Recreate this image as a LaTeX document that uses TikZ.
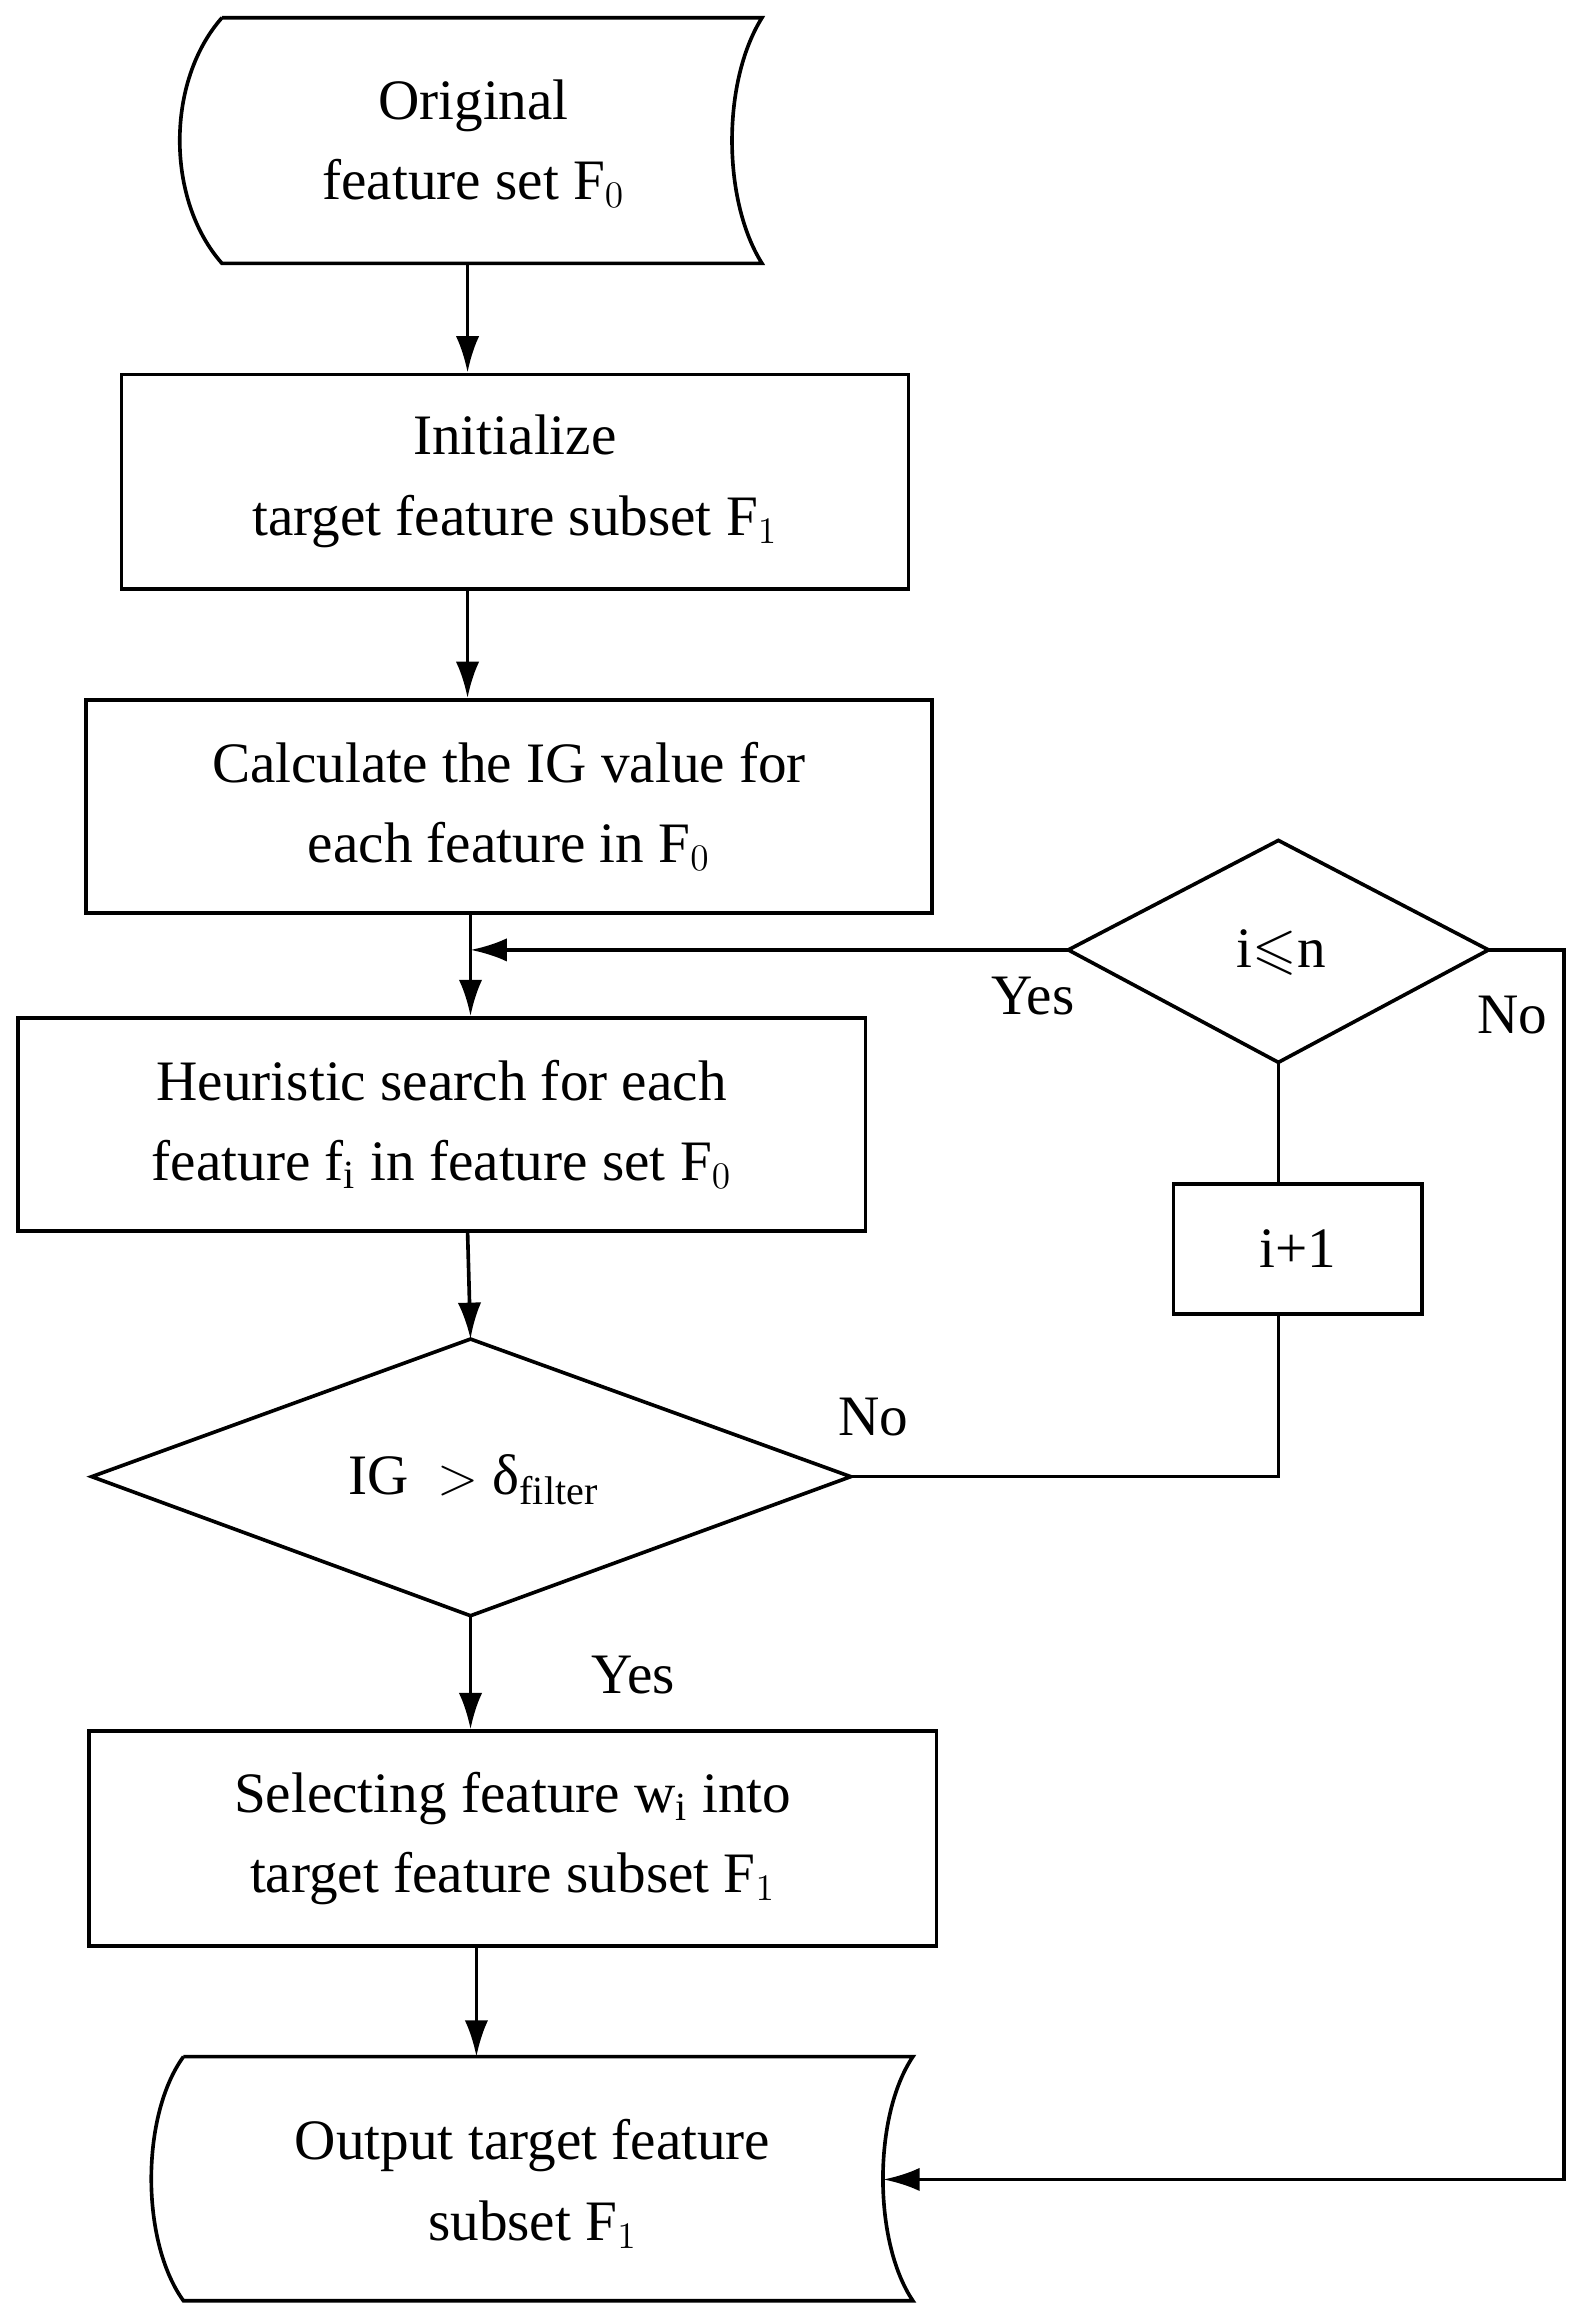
\documentclass[tikz,border=0pt]{standalone}
\usepackage{amssymb}
\usepackage{fontspec}
\setmainfont{Liberation Serif}
\usetikzlibrary{arrows.meta}
\begin{document}
\begin{tikzpicture}[x=0.02cm,y=-0.02cm,
  every node/.style={font=\fontsize{22}{31}\selectfont, align=center},
  box/.style={draw, line width=1.4pt, inner sep=0pt},
  ln/.style={line width=1.4pt},
  arr/.style={ln, -{Latex[length=14pt,width=9pt]}},
  lab/.style={font=\fontsize{22}{26}\selectfont}]
\useasboundingbox (0,0) rectangle (1070,1568);
% top shape
\draw[ln] (150,12) -- (515,12) .. controls (488,55) and (488,135) .. (515,178) -- (150,178) .. controls (112,135) and (112,55) .. (150,12);
\node (orig) at (320,97) {Original\\feature set F$_0$};
\coordinate (origb) at (316,178);
\node[box, minimum width=532*0.02cm, minimum height=145*0.02cm] (init) at (348,325.5) {Initialize\\target feature subset F$_1$};
\node[box, minimum width=572*0.02cm, minimum height=144*0.02cm] (calc) at (344,545) {Calculate the IG value for\\each feature in F$_0$};
\node[box, minimum width=573*0.02cm, minimum height=144*0.02cm] (heur) at (298.5,760) {Heuristic search for each\\feature f$_\mathrm{i}$ in feature set F$_0$};
\draw[ln] (318,905) -- (575,998) -- (318,1092) -- (62,998) -- cycle;
\node (ig) at (320,1000) {IG\ \ $>$ δ$_{\mathrm{filter}}$};
\coordinate (igt) at (318,905); \coordinate (igb) at (318,1092); \coordinate (igr) at (575,998);
\node[box, minimum width=573*0.02cm, minimum height=145*0.02cm] (sel) at (346.5,1242.5) {Selecting feature w$_\mathrm{i}$ into\\target feature subset F$_1$};
\draw[ln] (124,1390) -- (617,1390) .. controls (590,1430) and (590,1515) .. (617,1555) -- (124,1555) .. controls (95,1515) and (95,1430) .. (124,1390);
\node (out) at (360,1476) {Output target feature\\subset F$_1$};
\coordinate (outt) at (322,1390); \coordinate (outr) at (597,1473);
\draw[ln] (864,568) -- (1006,642) -- (864,718) -- (722,642) -- cycle;
\node (cond) at (866,644) {i$\leqslant$n};
\coordinate (cl) at (722,642); \coordinate (cr) at (1006,642); \coordinate (cb) at (864,718);
\node[box, minimum width=168*0.02cm, minimum height=88*0.02cm] (inc) at (877,844) {i+1};
\coordinate (yesin) at (318,642);
\coordinate (c1) at (318,617);
\coordinate (h1) at (316,832);
\coordinate (nocorner) at (864,998);
\coordinate (incb) at (864,888);
\coordinate (inct) at (864,800);
% connectors
\draw[arr] (origb) -- (init.north -| origb);
\draw[arr] (init.south -| origb) -- (calc.north -| origb);
\draw[arr] (c1) -- (heur.north -| c1);
\draw[arr] (h1) -- (igt);
\draw[arr] (igb) -- (sel.north -| igb);
\draw[arr] (sel.south -| outt) -- (outt);
\draw[arr] (cl) -- (yesin);
\draw[ln] (cb) -- (inct);
\draw[ln] (igr) -- (nocorner) -- (incb);
\draw[arr] (cr) -- (1057,642) -- (1057,1473) -- (outr);
\node[lab] at (698,673) {Yes};
\node[lab] at (1022,686) {No};
\node[lab] at (590,958) {No};
\node[lab] at (428,1132) {Yes};
\end{tikzpicture}
\end{document}
